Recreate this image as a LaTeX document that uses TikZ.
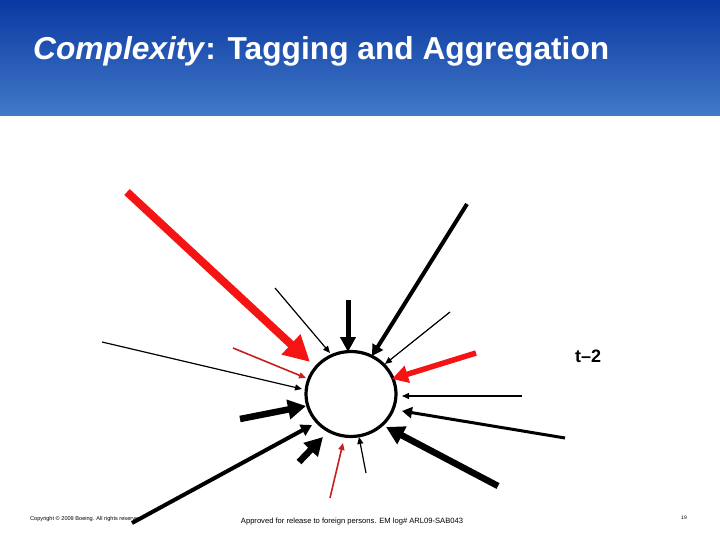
\documentclass[tikz,border=0pt]{standalone}
\usepackage{fontspec}
\setmainfont{Liberation Sans}
\usetikzlibrary{arrows.meta,shapes.geometric}
\definecolor{hdtop}{RGB}{10,56,162}
\definecolor{hdbot}{RGB}{66,122,200}
\definecolor{brightred}{RGB}{245,20,20}
\definecolor{darkred}{RGB}{200,30,30}
\tikzset{
  thinarr/.style={line width=1.2pt,-{Triangle[length=7pt,width=6pt]}},
  medarr/.style={line width=3pt,-{Triangle[length=10pt,width=11pt]}},
  longarr/.style={line width=4pt,-{Triangle[length=11pt,width=12pt]}},
  thickarr/.style={line width=6.5pt,-{Triangle[length=18pt,width=19pt]}},
  vertarr/.style={line width=5pt,-{Triangle[length=15pt,width=15pt]}},
  bigred/.style={line width=8pt,brightred,-{Triangle[length=26pt,width=26pt]}},
  redarr/.style={line width=5.5pt,brightred,-{Triangle[length=16pt,width=17pt]}},
  thinred/.style={line width=1.6pt,darkred,-{Triangle[length=7pt,width=6pt]}},
}
\begin{document}
\begin{tikzpicture}[x=1pt,y=-1pt]
\useasboundingbox (0,0) rectangle (720,540);
% header
\shade[top color=hdtop,bottom color=hdbot] (0,0) rectangle (720,116);
\node[anchor=base west,text=white,font=\bfseries\fontsize{31.7}{38}\selectfont,inner sep=0pt] (title) at (33,60) {\textit{Complexity}: Tagging and Aggregation};
% center circle
\node[draw,line width=3.2pt,ellipse,minimum width=90pt,minimum height=85pt,inner sep=0pt] (c) at (351,394) {};
% tails and tips
\coordinate (t1) at (127,192); \coordinate (h1) at (310,362);
\coordinate (t2) at (275,288); \coordinate (h2) at (330,353);
\coordinate (t3) at (348,300); \coordinate (h3) at (348,352);
\coordinate (t4) at (467,204); \coordinate (h4) at (372,356);
\coordinate (t5) at (450,312); \coordinate (h5) at (385,364);
\coordinate (t6) at (476,353); \coordinate (h6) at (392,379);
\coordinate (t7) at (522,396); \coordinate (h7) at (402,396);
\coordinate (t8) at (565,438); \coordinate (h8) at (402,411);
\coordinate (t9) at (498,486); \coordinate (h9) at (386,427);
\coordinate (t10) at (366,473); \coordinate (h10) at (359,437);
\coordinate (t11) at (330,498); \coordinate (h11) at (343,443);
\coordinate (t12) at (299,462); \coordinate (h12) at (323,437);
\coordinate (t13) at (132,523); \coordinate (h13) at (312,425);
\coordinate (t14) at (240,419); \coordinate (h14) at (306,406);
\coordinate (t15) at (102,342); \coordinate (h15) at (302,389);
\coordinate (t16) at (233,348); \coordinate (h16) at (306,378);
\draw[bigred] (t1) -- (h1);
\draw[thinarr] (t2) -- (h2);
\draw[vertarr] (t3) -- (h3);
\draw[longarr] (t4) -- (h4);
\draw[thinarr] (t5) -- (h5);
\draw[redarr] (t6) -- (h6);
\draw[thinarr] (t7) -- (h7);
\draw[medarr] (t8) -- (h8);
\draw[thickarr] (t9) -- (h9);
\draw[thinarr] (t10) -- (h10);
\draw[thinred] (t11) -- (h11);
\draw[thickarr] (t12) -- (h12);
\draw[longarr] (t13) -- (h13);
\draw[thickarr] (t14) -- (h14);
\draw[thinarr] (t15) -- (h15);
\draw[thinred] (t16) -- (h16);
% label
\node[anchor=base west,inner sep=0pt,font=\bfseries\fontsize{18}{20}\selectfont] (lbl) at (575,362) {t–2};
% footer
\node[anchor=base west,inner sep=0pt,font=\fontsize{5.6}{6}\selectfont] (copy) at (30,520) {Copyright © 2009 Boeing. All rights reserved.};
\node[anchor=base,inner sep=0pt,font=\fontsize{7.6}{9}\selectfont] (appr) at (352,523) {Approved for release to foreign persons. EM log\# ARL09-SAB043};
\node[anchor=base,inner sep=0pt,font=\fontsize{5}{6}\selectfont] (pg) at (684,519) {19};
\end{tikzpicture}
\end{document}
